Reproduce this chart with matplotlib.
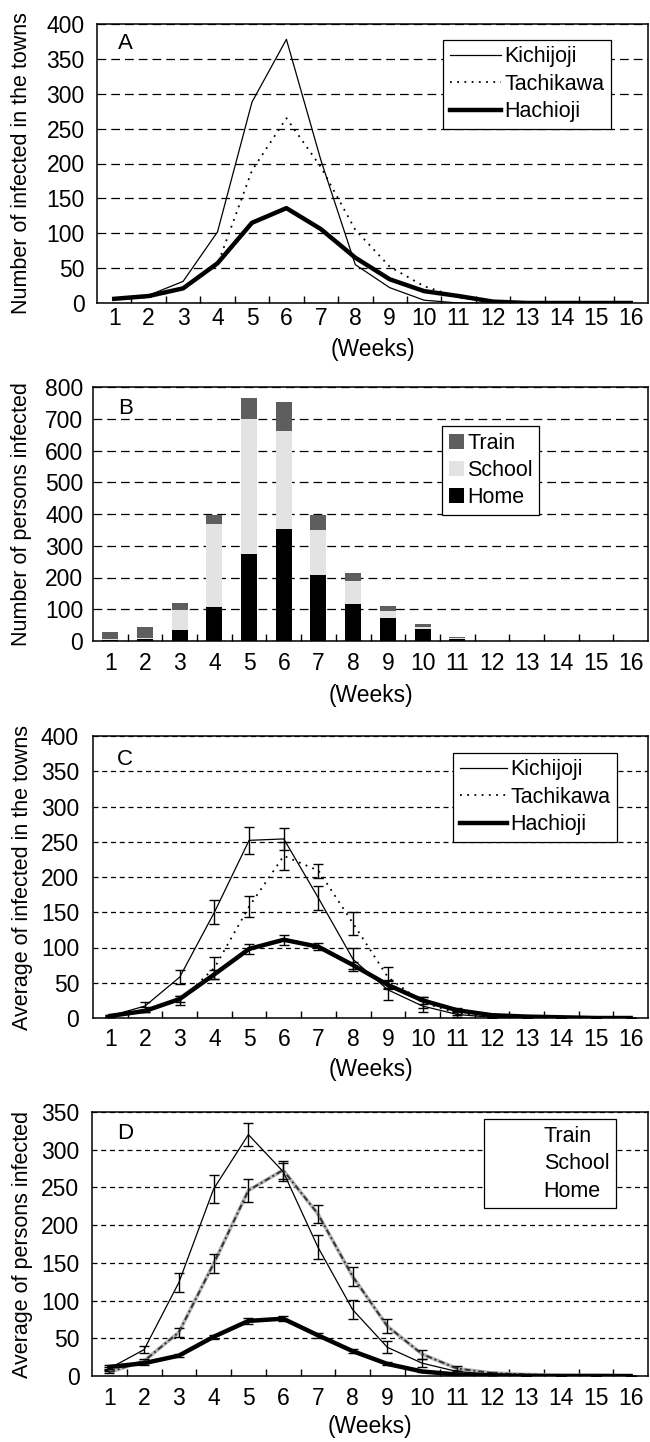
"""Weekly infection counts in three towns, four stacked panels (A-D).
"""
import matplotlib
matplotlib.use('Agg')
import matplotlib.pyplot as plt
import numpy as np


#
# Data.
#
weeks = list(range(1, 17))
week_labels = [str(w) for w in weeks]

# A: number of infected in the towns
kichijoji_a = [6, 11, 31, 102, 288, 378, 205, 55, 22, 4, 0, 0, 0, 0, 0, 0]
tachikawa_a = [5, 8, 20, 55, 190, 265, 195, 105, 52, 24, 8, 1, 0, 0, 0, 0]
hachioji_a = [6, 10, 21, 57, 115, 136, 106, 65, 34, 17, 10, 2, 0, 0, 0, 0]

# B: number of persons infected, by place
home_b = [3, 5, 35, 108, 274, 354, 208, 116, 71, 37, 5, 0, 0, 0, 0, 0]
school_b = [2, 3, 62, 262, 426, 307, 143, 74, 24, 8, 3, 0, 0, 0, 0, 0]
train_b = [22, 37, 23, 28, 66, 92, 47, 23, 16, 7, 4, 0, 0, 0, 0, 0]

# C: average of infected in the towns (with error bars)
kichijoji_c = [3, 17, 58, 150, 252, 254, 170, 83, 40, 17, 5, 1, 0, 0, 0, 0]
kichijoji_c_err = [1, 5, 10, 17, 19, 15, 17, 17, 14, 8, 3, 1, 0, 0, 0, 0]
tachikawa_c = [2, 12, 25, 71, 158, 230, 209, 134, 58, 22, 7, 2, 1, 0, 0, 0]
tachikawa_c_err = [1, 3, 6, 16, 15, 20, 10, 16, 15, 8, 3, 1, 0, 0, 0, 0]
hachioji_c = [3, 10, 27, 62, 98, 111, 101, 75, 47, 25, 11, 4, 2, 1, 0, 0]
hachioji_c_err = [1, 2, 4, 6, 7, 7, 5, 5, 6, 5, 3, 1, 1, 0, 0, 0]

# D: average of persons infected, by place (with error bars)
train_d = [10, 35, 124, 248, 320, 271, 171, 88, 38, 17, 6, 2, 0, 0, 0, 0]
train_d_err = [2, 5, 12, 18, 15, 12, 16, 13, 8, 5, 2, 1, 0, 0, 0, 0]
school_d = [5, 20, 58, 149, 246, 273, 215, 132, 66, 29, 10, 4, 2, 1, 1, 0]
school_d_err = [1, 3, 6, 13, 15, 12, 12, 13, 9, 6, 3, 1, 1, 0, 0, 0]
home_d = [12, 17, 27, 52, 73, 76, 54, 33, 16, 6, 2, 1, 0, 0, 0, 0]
home_d_err = [3, 2, 2, 3, 4, 3, 3, 3, 2, 1, 1, 0, 0, 0, 0, 0]

towns = ['Kichijoji', 'Tachikawa', 'Hachioji']
places = ['Train', 'School', 'Home']


plt.rcParams['font.family'] = ['Liberation Sans', 'DejaVu Sans']
plt.rcParams['font.size'] = 15

W, H = 650, 1442
fig = plt.figure(figsize=(W / 100, H / 100), dpi=100)


def axes_px(left, top, right, bottom):
    """Axes placed by pixel edges of the figure."""
    return fig.add_axes([left / W, 1 - bottom / H, (right - left) / W, (bottom - top) / H])


def style(ax, ymax, ystep, dashes, ylabel, letter, ylab_x, xlab_y, xpad, ypad, letter_xy):
    ax.set_xlim(0.5, 16.5)
    ax.set_ylim(0, ymax)
    ax.set_yticks(np.arange(0, ymax + 1, ystep))
    ax.set_xticks(weeks)
    ax.set_xticklabels(week_labels)
    ax.set_xticks(np.arange(1.5, 16.5, 1), minor=True)
    ax.tick_params(axis='x', which='major', length=0, pad=xpad, labelsize=16.5)
    ax.tick_params(axis='x', which='minor', direction='in', length=5, width=1)
    ax.tick_params(axis='y', length=0, pad=ypad, labelsize=16.5)
    ax.yaxis.grid(True, color='black', linewidth=0.9, linestyle=(0, dashes))
    ax.set_axisbelow(True)
    for s in ax.spines.values():
        s.set_linewidth(1.1)
    ax.set_ylabel(ylabel, fontsize=15.5)
    ax.yaxis.set_label_coords(ylab_x, 0.5)
    ax.set_xlabel('(Weeks)', fontsize=16.5, va='top')
    ax.xaxis.set_label_coords(0.5, xlab_y)
    ax.text(letter_xy[0], letter_xy[1], letter, transform=ax.transAxes,
            fontsize=16, ha='left', va='center')


def legend(ax, handles, labels, anchor, **kw):
    leg = ax.legend(handles, labels, loc='upper right', bbox_to_anchor=anchor,
                    borderaxespad=0, fancybox=False, shadow=False, framealpha=1,
                    edgecolor='black', fontsize=15.5, handletextpad=0.15,
                    labelspacing=0.3, borderpad=0.3, **kw)
    leg.get_frame().set_linewidth(0.9)
    return leg


#
# Panel A
#
ax = axes_px(97, 24, 648, 303)
la = ax.plot(weeks, kichijoji_a, color='black', linewidth=0.9)
la += ax.plot(weeks, tachikawa_a, color='black', linewidth=1.3, linestyle=(0, (1, 3)))
la += ax.plot(weeks, hachioji_a, color='black', linewidth=3.2)
style(ax, 400, 50, (7, 4), 'Number of infected in the towns', 'A',
      -0.118, -0.125, 3, 9, (0.038, 0.93))
legend(ax, la, towns, (0.933, 0.943), handlelength=2.4)


#
# Panel B
#
ax = axes_px(93, 387, 648, 641)
bottom_school = np.array(home_b)
bottom_train = bottom_school + np.array(school_b)
b1 = ax.bar(weeks, train_b, 0.46, bottom=bottom_train, color='#5e5e5e')
b2 = ax.bar(weeks, school_b, 0.46, bottom=bottom_school, color='#e3e3e3')
b3 = ax.bar(weeks, home_b, 0.46, color='black')
style(ax, 800, 100, (7, 4), 'Number of persons infected', 'B',
      -0.11, -0.17, 8, 7, (0.045, 0.917))
legend(ax, [b1, b2, b3], places, (0.804, 0.846), handlelength=0.7, handleheight=0.7)


#
# Panel C
#
ax = axes_px(93, 736, 648, 1018)
eb = dict(capsize=3.5, elinewidth=1, capthick=1, ecolor='black')
c1 = ax.errorbar(weeks, kichijoji_c, yerr=kichijoji_c_err, color='black', linewidth=0.9, **eb)
c2 = ax.errorbar(weeks, tachikawa_c, yerr=tachikawa_c_err, color='black', linewidth=1.3,
                 linestyle=(0, (1, 3)), **eb)
c3 = ax.errorbar(weeks, hachioji_c, yerr=hachioji_c_err, color='black', linewidth=3.2, **eb)
style(ax, 400, 50, (4, 3), 'Average of infected in the towns', 'C',
      -0.108, -0.142, 7, 10, (0.043, 0.918))
legend(ax, [c1[0], c2[0], c3[0]], towns, (0.944, 0.94), handlelength=2.2)


#
# Panel D
#
ax = axes_px(92, 1112, 648, 1376)
d1 = ax.errorbar(weeks, train_d, yerr=train_d_err, color='black', linewidth=0.9, **eb)
ax.plot(weeks, school_d, color='#b5b5b5', linewidth=2.6)
d2 = ax.errorbar(weeks, school_d, yerr=school_d_err, color='#333333', linewidth=1.4,
                 linestyle=(0, (3, 1.5, 1, 1.5)), **eb)
d3 = ax.errorbar(weeks, home_d, yerr=home_d_err, color='black', linewidth=3.2, **eb)
style(ax, 350, 50, (4, 3), 'Average of persons infected', 'D',
      -0.106, -0.146, 8, 9, (0.045, 0.92))
leg = legend(ax, [d1[0], d2[0], d3[0]], places, (0.942, 0.973), handlelength=2.3)
for hnd in leg.legend_handles:
    hnd.set_visible(False)

fig.savefig('out.png', dpi=100)
